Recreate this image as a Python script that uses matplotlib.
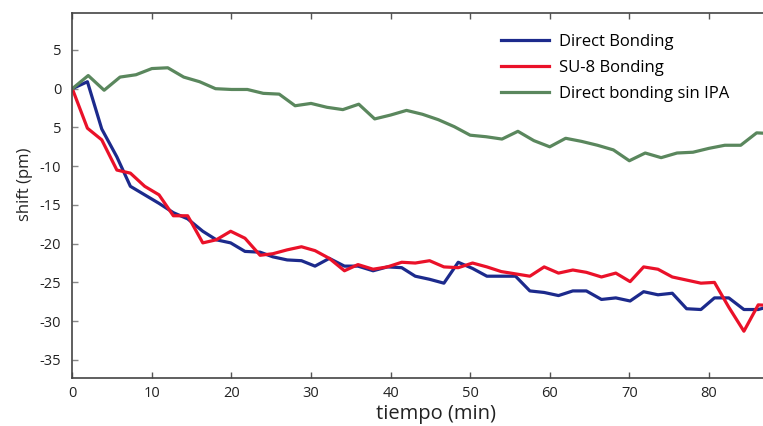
import matplotlib
matplotlib.use("Agg")
import matplotlib.pyplot as plt

# time axis for the two bonding series (min) and for the IPA series
t_bond = [0, 1.9, 3.7, 5.6, 7.3, 9.1, 10.9, 12.7, 14.5, 16.4, 18.1, 19.9, 21.7,
          23.6, 25.2, 27.0, 28.8, 30.5, 32.3, 34.2, 35.9, 37.8, 39.6, 41.4, 43.1,
          44.9, 46.7, 48.5, 50.3, 52.1, 53.9, 55.7, 57.5, 59.3, 61.1, 62.9, 64.6,
          66.5, 68.3, 70.1, 71.8, 73.6, 75.4, 77.2, 79.0, 80.7, 82.5, 84.4, 86.2, 88.0]
direct = [0, 0.9, -5.2, -8.8, -12.6, -13.7, -14.8, -16.0, -16.8, -18.4, -19.5, -19.9,
          -21.0, -21.1, -21.7, -22.1, -22.2, -22.9, -21.9, -22.9, -22.9, -23.5, -23.0,
          -23.1, -24.2, -24.6, -25.1, -22.4, -23.2, -24.2, -24.2, -24.2, -26.1, -26.3,
          -26.7, -26.1, -26.1, -27.2, -27.0, -27.4, -26.2, -26.6, -26.4, -28.4, -28.5,
          -27.0, -27.0, -28.5, -28.5, -28.0]
su8 = [0, -5.1, -6.6, -10.5, -10.9, -12.6, -13.7, -16.4, -16.4, -19.9, -19.5, -18.4,
       -19.3, -21.5, -21.3, -20.8, -20.4, -20.9, -21.9, -23.5, -22.7, -23.3, -23.0,
       -22.4, -22.5, -22.2, -23.0, -23.1, -22.5, -23.0, -23.6, -23.9, -24.2, -23.0,
       -23.8, -23.4, -23.7, -24.3, -23.8, -24.9, -23.0, -23.3, -24.3, -24.7, -25.1,
       -25.0, -28.2, -31.3, -27.9, -28.0]

t_ipa = [0, 2, 4, 6, 8, 10, 12, 14, 16, 18, 20, 22, 24, 26, 28, 30, 32, 34, 36, 38,
         40, 42, 44, 46, 48, 50, 52, 54, 56, 58, 60, 62, 64, 66, 68, 70, 72, 74, 76,
         78, 80, 82, 84, 86, 88]
no_ipa = [0, 1.7, -0.2, 1.5, 1.8, 2.6, 2.7, 1.5, 0.9, 0.0, -0.1, -0.1, -0.6, -0.7,
          -2.2, -1.9, -2.4, -2.7, -2.0, -3.9, -3.4, -2.8, -3.3, -4.0, -4.9, -6.0,
          -6.2, -6.5, -5.5, -6.7, -7.5, -6.4, -6.8, -7.3, -7.9, -9.3, -8.3, -8.9,
          -8.3, -8.2, -7.7, -7.3, -7.3, -5.7, -5.8]

x_ticks = [0, 10, 20, 30, 40, 50, 60, 70, 80]
y_ticks = [5, 0, -5, -10, -15, -20, -25, -30, -35]
y_tick_labels = ["5", "0", "5", "-10", "-15", "-20", "-25", "-30", "-35"]

plt.rcParams['font.family'] = ['Open Sans', 'DejaVu Sans']

fig = plt.figure(figsize=(7.63, 4.26), dpi=100)
ax = fig.add_axes([72.3 / 763, 48.3 / 426, 1 - 72.3 / 763, (377.7 - 13) / 426])

ax.plot(t_bond, direct, color='#1c2a8c', lw=2.3, label='Direct Bonding')
ax.plot(t_bond, su8, color='#ea1129', lw=2.3, label='SU-8 Bonding')
ax.plot(t_ipa, no_ipa, color='#5a875d', lw=2.3, label='Direct bonding sin IPA')

ax.set_xlim(0, 86.8)
ax.set_ylim(-37.3, 9.77)
ax.set_xticks(x_ticks)
ax.set_yticks(y_ticks)
ax.set_yticklabels(y_tick_labels)

ax.spines['right'].set_visible(False)
for s in ['left', 'top', 'bottom']:
    ax.spines[s].set_color('#444444')
    ax.spines[s].set_linewidth(1.2)
ax.tick_params(axis='x', direction='in', top=True, length=4, width=1, color='#555555',
               labelsize=10.5, labelcolor='#222222', pad=6)
ax.tick_params(axis='y', direction='in', length=4, width=1, color='#888888',
               labelsize=10.5, labelcolor='#222222', pad=8)

ax.set_xlabel('tiempo (min)', fontsize=14.5, color='#222222')
ax.xaxis.set_label_coords(0.527, -0.072)
ax.set_ylabel('shift (pm)', fontsize=12, color='#222222')
ax.yaxis.set_label_coords(-0.057, 0.53)

ax.legend(loc='upper left', bbox_to_anchor=(0.656, 0.92), bbox_transform=fig.transFigure,
          frameon=False, fontsize=12, handlelength=2.9, handletextpad=0.6,
          labelspacing=0.6, borderpad=0, borderaxespad=0)

fig.savefig('out.png', dpi=100)
